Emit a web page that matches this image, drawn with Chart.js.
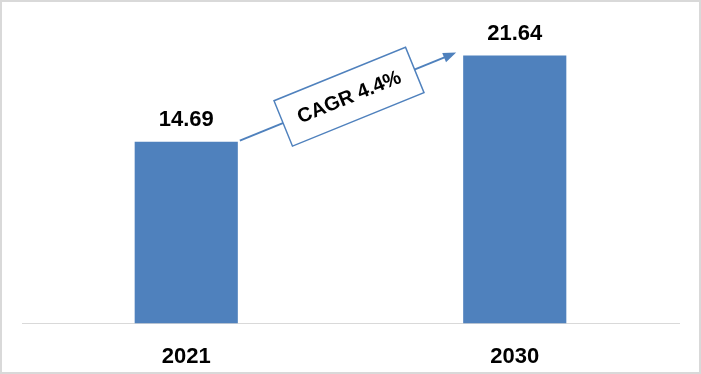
<!DOCTYPE html>
<html>
<head>
<meta charset="utf-8">
<script src="https://cdn.jsdelivr.net/npm/chart.js@4/dist/chart.umd.min.js"></script>
<style>
  html, body { margin: 0; padding: 0; background: #fff; }
  #wrap { width: 701px; height: 374px; position: relative; }
</style>
</head>
<body>
<div id="wrap"><canvas id="market"></canvas></div>
<script>
const years = ["2021", "2030"];
const marketSize = [14.69, 21.64];
const cagrText = "CAGR 4.4%";

const blue = "#4F81BD";
const labelFont = "bold 22px 'Liberation Sans', Arial, sans-serif";

// frame, value labels and the CAGR arrow
const extras = {
    id: "extras",
    afterDatasetsDraw(chart) {
        const ctx = chart.ctx;
        const bars = chart.getDatasetMeta(0).data;

        ctx.save();
        ctx.font = labelFont;
        ctx.fillStyle = "#000";
        ctx.textAlign = "center";
        ctx.textBaseline = "alphabetic";
        bars.forEach((b, i) => {
            ctx.fillText(marketSize[i].toFixed(2), b.x, b.y - 16);
        });

        // arrow between the bar tops
        const a = bars[0], c = bars[1];
        const x1 = a.x + a.width / 2 + 2, y1 = a.y - 1;
        const x2 = c.x - c.width / 2 - 7, y2 = c.y - 3;
        const ang = Math.atan2(y2 - y1, x2 - x1);
        ctx.strokeStyle = blue;
        ctx.fillStyle = blue;
        ctx.lineWidth = 2;
        ctx.beginPath();
        ctx.moveTo(x1, y1);
        ctx.lineTo(x2 - 10 * Math.cos(ang), y2 - 10 * Math.sin(ang));
        ctx.stroke();
        ctx.beginPath();
        ctx.moveTo(x2, y2);
        ctx.lineTo(x2 - 13 * Math.cos(ang) + 5 * Math.sin(ang), y2 - 13 * Math.sin(ang) - 5 * Math.cos(ang));
        ctx.lineTo(x2 - 13 * Math.cos(ang) - 5 * Math.sin(ang), y2 - 13 * Math.sin(ang) + 5 * Math.cos(ang));
        ctx.closePath();
        ctx.fill();

        // rotated box with the growth rate
        const mx = (x1 + x2) / 2 + 1, my = (y1 + y2) / 2;
        ctx.translate(mx, my);
        ctx.rotate(ang);
        ctx.fillStyle = "#fff";
        ctx.fillRect(-71, -24.5, 142, 49);
        ctx.lineWidth = 1.5;
        ctx.strokeRect(-71, -24.5, 142, 49);
        ctx.fillStyle = "#000";
        ctx.font = "bold 20px 'Liberation Sans', Arial, sans-serif";
        ctx.textBaseline = "middle";
        ctx.fillText(cagrText, 0, 1);
        ctx.restore();

        // outer frame
        ctx.save();
        ctx.strokeStyle = "#d9d9d9";
        ctx.lineWidth = 2;
        ctx.strokeRect(1, 1, chart.width - 2, chart.height - 2);
        ctx.restore();
    }
};

new Chart(document.getElementById("market"), {
    type: "bar",
    plugins: [extras],
    data: {
        labels: years,
        datasets: [{
            data: marketSize,
            backgroundColor: blue,
            barPercentage: 1,
            categoryPercentage: 0.314
        }]
    },
    options: {
        responsive: true,
        maintainAspectRatio: false,
        animation: false,
        layout: { padding: { left: 22, right: 22, top: 14, bottom: -16 } },
        plugins: { legend: { display: false }, tooltip: { enabled: false } },
        scales: {
            x: {
                grid: { display: false, drawTicks: false },
                border: { color: "#d9d9d9", width: 1 },
                ticks: {
                    color: "#000",
                    padding: 20,
                    font: { family: "'Liberation Sans', Arial, sans-serif", size: 22, weight: "bold" }
                }
            },
            y: { display: false, min: 0, max: 25 }
        }
    }
});
</script>
</body>
</html>
